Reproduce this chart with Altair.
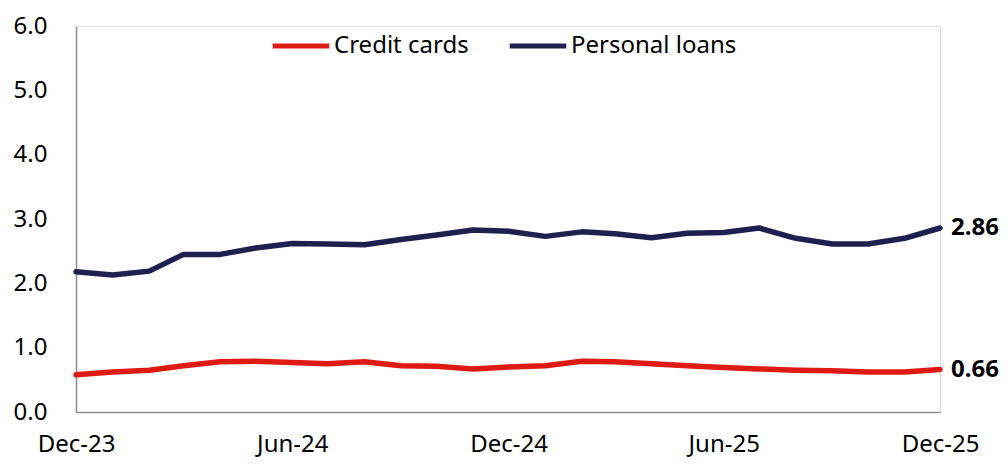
import altair as alt
import pandas as pd

months = pd.date_range("2023-12-01", "2025-12-01", freq="MS").strftime("%Y-%m-%d").tolist()
credit_cards = [0.58, 0.62, 0.65, 0.72, 0.78, 0.79, 0.77, 0.75, 0.78, 0.72, 0.71, 0.67, 0.70,
                0.72, 0.79, 0.78, 0.75, 0.72, 0.69, 0.67, 0.65, 0.64, 0.62, 0.62, 0.66]
personal_loans = [2.18, 2.13, 2.19, 2.45, 2.45, 2.55, 2.62, 2.61, 2.60, 2.68, 2.75, 2.83, 2.81,
                  2.73, 2.80, 2.77, 2.71, 2.78, 2.79, 2.86, 2.70, 2.61, 2.61, 2.70, 2.86]
series_names = ["Credit cards", "Personal loans"]
colors = ["#DE1A12", "#1F1F50"]
tick_dates = ["2023-12-01", "2024-06-01", "2024-12-01", "2025-06-01", "2025-12-01"]

rows = []
for m, c, p in zip(months, credit_cards, personal_loans):
    rows.append({"date": m, "series": series_names[0], "value": c})
    rows.append({"date": m, "series": series_names[1], "value": p})
df = pd.DataFrame(rows)
last = df[df["date"] == months[-1]].copy()
last["label"] = last["value"].map(lambda v: f"{v:.2f}")

FONT = "Noto Sans"
FS = 24

x = alt.X("date:T",
          scale=alt.Scale(domain=[months[0], months[-1]], nice=False),
          axis=alt.Axis(title=None, format="%b-%y", values=tick_dates, ticks=False,
                        grid=False, labelPadding=20, labelFontSize=FS, labelColor="#000",
                        labelFont=FONT, domainColor="#8c8c8c", domainWidth=1.5,
                        labelOverlap=False, labelFlush=False))
y = alt.Y("value:Q",
          scale=alt.Scale(domain=[0, 6], nice=False),
          axis=alt.Axis(title=None, values=[0, 1, 2, 3, 4, 5, 6], format=".1f", ticks=False,
                        grid=False, labelPadding=29, labelFontSize=FS, labelColor="#000",
                        labelFont=FONT, domainColor="#8c8c8c", domainWidth=1.5))

color = alt.Color("series:N",
                  scale=alt.Scale(domain=series_names, range=colors),
                  legend=alt.Legend(title=None, orient="none", direction="horizontal",
                                    legendX=194, legendY=-11, symbolType="stroke",
                                    symbolSize=3200, symbolStrokeWidth=5,
                                    labelFontSize=FS, labelFont=FONT, labelColor="#000",
                                    labelLimit=0, columnPadding=30, labelOffset=2, padding=0))

lines = alt.Chart(df).mark_line(strokeWidth=5.5, strokeCap="round", strokeJoin="round").encode(
    x=x, y=y, color=color)

labels = alt.Chart(last).mark_text(align="left", dx=11, fontSize=FS, fontWeight="bold",
                                   font=FONT, color="#000").encode(
    x=alt.X("date:T"), y=alt.Y("value:Q"), text="label:N")

chart = (lines + labels).properties(
    width=864, height=386,
    padding={"left": 5, "top": 6, "right": 0, "bottom": 6}
).configure_view(stroke=None).configure(background="white")

chart.save("out.html", embed_options={"renderer": "svg", "actions": False})
